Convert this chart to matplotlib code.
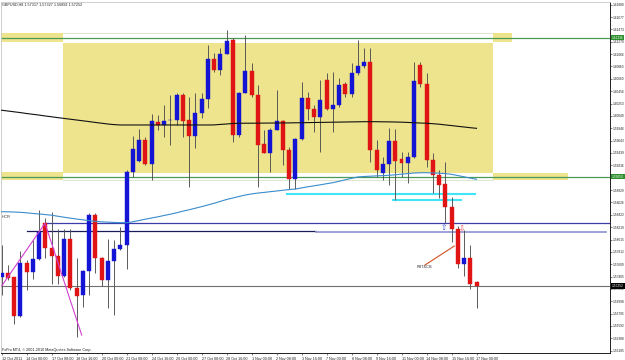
import matplotlib
matplotlib.use("Agg")
import matplotlib.pyplot as plt
from matplotlib.patches import Rectangle
from matplotlib.transforms import blended_transform_factory

plt.rcParams['font.family'] = ['Liberation Sans', 'DejaVu Sans']

# ---------------- data ----------------
title_text = "GBPUSD,H8 1.57317 1.57327 1.56892 1.57252"
copyright_text = "FxPro MT4, \u00a9 2001-2010 MetaQuotes Software Corp."

x_labels = ["12 Oct 2011", "14 Oct 00:00", "17 Oct 08:00", "18 Oct 16:00", "20 Oct 00:00",
            "21 Oct 08:00", "24 Oct 16:00", "26 Oct 00:00", "27 Oct 08:00", "28 Oct 16:00",
            "1 Nov 00:00", "2 Nov 08:00", "3 Nov 16:00", "7 Nov 00:00", "8 Nov 08:00",
            "9 Nov 16:00", "11 Nov 00:00", "14 Nov 08:00", "15 Nov 16:00", "17 Nov 00:00"]

opens = [1.57403, 1.57469, 1.57393, 1.56755, 1.57633, 1.57485, 1.57694, 1.58282, 1.57870, 1.57743,
         1.57419, 1.58018, 1.57221, 1.57102, 1.57502, 1.58418, 1.57705, 1.57348, 1.57666, 1.57859,
         1.57924, 1.59131, 1.59307, 1.59653, 1.59252, 1.59954, 1.59900, 1.59974, 1.59982, 1.60393,
         1.59982, 1.59718, 1.60102, 1.60327, 1.60981, 1.60805, 1.61068, 1.61299, 1.59735, 1.60431,
         1.60788, 1.60393, 1.59582, 1.59444, 1.59817, 1.59970, 1.59488, 1.59005, 1.59664, 1.60339,
         1.60158, 1.60026, 1.60640, 1.60158, 1.60229, 1.60570, 1.60405, 1.60751, 1.60871, 1.60937,
         1.59488, 1.59104, 1.59252, 1.59636, 1.59335, 1.59269, 1.59378, 1.60887, 1.60574, 1.59323,
         1.59077, 1.58929, 1.58555, 1.58183, 1.57612, 1.57705, 1.57317]
highs = [1.57924, 1.57595, 1.57403, 1.57830, 1.57677, 1.58007, 1.58500, 1.58364, 1.58462, 1.58183,
         1.58183, 1.58183, 1.57705, 1.57510, 1.58446, 1.58446, 1.57732, 1.58018, 1.58007, 1.58216,
         1.59159, 1.59718, 1.59829, 1.59707, 1.60075, 1.60064, 1.60229, 1.60393, 1.60426, 1.60421,
         1.60365, 1.60421, 1.60421, 1.61216, 1.61080, 1.61162, 1.61463, 1.61327, 1.60448, 1.61381,
         1.60925, 1.60558, 1.59817, 1.59845, 1.60476, 1.59982, 1.59542, 1.59681, 1.60612, 1.60448,
         1.60229, 1.60640, 1.60751, 1.60777, 1.60668, 1.60612, 1.60915, 1.61299, 1.61162, 1.61162,
         1.59653, 1.59378, 1.59845, 1.59829, 1.59460, 1.59460, 1.60932, 1.60932, 1.60751, 1.59434,
         1.59159, 1.59295, 1.58710, 1.58237, 1.58171, 1.57924, 1.57327]
lows = [1.57101, 1.57348, 1.56624, 1.56744, 1.57184, 1.57360, 1.57677, 1.57705, 1.57282, 1.57282,
        1.57403, 1.57184, 1.56415, 1.56909, 1.57102, 1.57469, 1.57249, 1.56892, 1.56772, 1.57850,
        1.57525, 1.59048, 1.59295, 1.59241, 1.58994, 1.59817, 1.59707, 1.59570, 1.59900, 1.59707,
        1.58884, 1.59516, 1.60010, 1.60174, 1.60777, 1.60723, 1.61060, 1.59625, 1.59707, 1.60421,
        1.60365, 1.58884, 1.59434, 1.59131, 1.59810, 1.59241, 1.58841, 1.58841, 1.59653, 1.59982,
        1.59789, 1.59460, 1.60146, 1.59789, 1.60201, 1.60365, 1.60365, 1.60723, 1.60833, 1.59295,
        1.59048, 1.58994, 1.58912, 1.58665, 1.59048, 1.58940, 1.59351, 1.60520, 1.59213, 1.58775,
        1.58693, 1.58281, 1.57979, 1.57541, 1.57414, 1.57195, 1.56892]
closes = [1.57469, 1.57386, 1.56755, 1.57633, 1.57485, 1.57689, 1.58143, 1.57870, 1.57743, 1.57419,
          1.58018, 1.57211, 1.57090, 1.57502, 1.58418, 1.57705, 1.57348, 1.57666, 1.57859, 1.57924,
          1.59131, 1.59504, 1.59653, 1.59252, 1.59966, 1.59900, 1.59966, 1.59990, 1.60393, 1.59970,
          1.59718, 1.60102, 1.60327, 1.60981, 1.60805, 1.61068, 1.61282, 1.59735, 1.60431, 1.60788,
          1.60393, 1.59570, 1.59444, 1.59817, 1.59970, 1.59488, 1.59005, 1.59664, 1.60339, 1.60158,
          1.60026, 1.60311, 1.60158, 1.60229, 1.60558, 1.60405, 1.60751, 1.60871, 1.60937, 1.59488,
          1.59159, 1.59252, 1.59636, 1.59312, 1.59269, 1.59378, 1.60624, 1.60574, 1.59323, 1.59077,
          1.58912, 1.58555, 1.58183, 1.57607, 1.57705, 1.57277, 1.57252]

ma_blue = [1.58472, 1.58471, 1.58467, 1.58463, 1.58454, 1.58444, 1.58435, 1.58425, 1.58415, 1.58398,
           1.58382, 1.58367, 1.58352, 1.58339, 1.58326, 1.58314, 1.58306, 1.58301, 1.58296, 1.58293,
           1.58291, 1.58306, 1.58328, 1.58349, 1.58369, 1.58388, 1.58410, 1.58431, 1.58454, 1.58481,
           1.58504, 1.58530, 1.58555, 1.58583, 1.58611, 1.58642, 1.58673, 1.58698, 1.58723, 1.58747,
           1.58765, 1.58779, 1.58790, 1.58802, 1.58813, 1.58825, 1.58836, 1.58846, 1.58864, 1.58882,
           1.58899, 1.58915, 1.58933, 1.58950, 1.58973, 1.58998, 1.59022, 1.59044, 1.59052, 1.59057,
           1.59062, 1.59067, 1.59072, 1.59080, 1.59090, 1.59100, 1.59109, 1.59114, 1.59114, 1.59111,
           1.59106, 1.59100, 1.59088, 1.59068, 1.59047, 1.59026, 1.59006]
ma_black = [1.60143, 1.60130, 1.60117, 1.60104, 1.60089, 1.60076, 1.60063, 1.60048, 1.60035, 1.60021,
            1.60008, 1.59995, 1.59982, 1.59969, 1.59956, 1.59942, 1.59929, 1.59916, 1.59906, 1.59900,
            1.59900, 1.59900, 1.59900, 1.59900, 1.59900, 1.59900, 1.59900, 1.59900, 1.59900, 1.59900,
            1.59900, 1.59900, 1.59900, 1.59900, 1.59901, 1.59909, 1.59916, 1.59924, 1.59928, 1.59929,
            1.59929, 1.59930, 1.59931, 1.59932, 1.59932, 1.59933, 1.59934, 1.59936, 1.59937, 1.59939,
            1.59941, 1.59942, 1.59944, 1.59946, 1.59947, 1.59949, 1.59951, 1.59952, 1.59954, 1.59954,
            1.59954, 1.59952, 1.59951, 1.59949, 1.59946, 1.59942, 1.59937, 1.59932, 1.59928, 1.59921,
            1.59913, 1.59901, 1.59890, 1.59878, 1.59867, 1.59855, 1.59845]

price_ticks = [1.61880, 1.61677, 1.61473, 1.61270, 1.61066, 1.60863, 1.60660, 1.60456, 1.60253,
               1.60049, 1.59846, 1.59643, 1.59439, 1.59236, 1.58829, 1.58626, 1.58422,
               1.58219, 1.58015, 1.57812, 1.57609, 1.57405, 1.57202, 1.56998, 1.56795, 1.56592,
               1.56388, 1.56185]

zone_top_level = 1.61336
zone_bottom_level = 1.59050
hcr_line = 1.58282
base_line = 1.58155
base_line2 = 1.58143
support1 = 1.58759
support2 = 1.58673
zigzag_x = [0.03, 6.96, 12.83]
zigzag_y = [1.57250, 1.58282, 1.56443]

# ---------------- figure ----------------
W, H = 625, 360
fig = plt.figure(figsize=(W / 100, H / 100), dpi=100)
fig.patch.set_facecolor('white')
ax = fig.add_axes([1 / W, (H - 353) / H, 609 / W, 351 / H])
ax.set_facecolor('white')

ax.set_ylim(1.56147, 1.61924)
ax.set_xlim(-0.08, 97.36)

yellow = '#EFE48E'
# zones (background)
ax.add_patch(Rectangle((9.84, 1.59114), 78.7 - 9.84, 1.61254 - 1.59114, fc=yellow, ec='none', zorder=0))
ax.add_patch(Rectangle((-0.5, 1.61271), 10.34, 1.61409 - 1.61271, fc=yellow, ec='none', zorder=0))
ax.add_patch(Rectangle((78.7, 1.61271), 3.0, 1.61409 - 1.61271, fc=yellow, ec='none', zorder=0))
ax.add_patch(Rectangle((-0.5, 1.58994), 10.34, 1.59131 - 1.58994, fc=yellow, ec='none', zorder=0))
ax.add_patch(Rectangle((78.7, 1.58994), 12.0, 1.59114 - 1.58994, fc=yellow, ec='none', zorder=0))
ax.plot([9.84, 78.7], [1.61409, 1.61409], color='#d8e0c8', lw=0.6, zorder=0.5)
ax.plot([9.84, 78.7], [1.58994, 1.58994], color='#d8e0c8', lw=0.6, zorder=0.5)

# horizontal levels
ax.axhline(zone_top_level, color='#4c9a55', lw=0.9, zorder=1)
ax.axhline(zone_bottom_level, color='#4c9a55', lw=0.9, zorder=1)
ax.plot([7.0, 98], [hcr_line, hcr_line], color='#3c3ca8', lw=0.9, zorder=1)
ax.plot([4.0, 50.3], [base_line, base_line], color='#1c1c5c', lw=0.9, zorder=1)
ax.plot([50.3, 96.7], [base_line2, base_line2], color='#9a9ad8', lw=1.3, zorder=1)
ax.axhline(closes[-1], color='#707070', lw=0.8, zorder=1)
ax.plot([45.75, 75.75], [support1, support1], color='#40e6f6', lw=1.5, zorder=1.5)
ax.plot([62.6, 73.6], [support2, support2], color='#40e6f6', lw=1.5, zorder=1.5)

# candles
bw = 0.64
for i in range(len(opens)):
    o, h, l, c = opens[i], highs[i], lows[i], closes[i]
    up = c >= o
    col = '#1414d4' if up else '#e01414'
    ax.plot([i, i], [l, h], color='#505050', lw=0.65, zorder=2, solid_capstyle='butt')
    bot = min(o, c)
    hgt = max(abs(c - o), 0.00006)
    ax.add_patch(Rectangle((i - bw / 2, bot), bw, hgt, fc=col, ec=col, lw=0.3, zorder=3))

# moving averages
idx = list(range(len(opens)))
ax.plot(idx, ma_blue, color='#3a8ccc', lw=0.8, zorder=4)
ax.plot([-0.3] + idx, [ma_black[0] + 0.00003] + ma_black, color='#101010', lw=0.8, zorder=4)

# zigzag and annotations
ax.plot(zigzag_x, zigzag_y, color='#d040d0', lw=0.8, zorder=4)
ax.plot([67.76, 72.45], [1.57595, 1.57908], color='#d05020', lw=0.8, zorder=4)
ax.text(67.7, 1.57559, "PBT&CB", fontsize=2.8, color='#303030', ha='center', va='center', zorder=5)
ax.text(0.1, 1.58380, "HCR", fontsize=3.0, color='#303030', ha='left', va='center', zorder=5)
ax.text(70.7, 1.58212, "\u21e7", fontsize=5.5, color='#3050d0', ha='center', va='center',
        family='DejaVu Sans', zorder=5)
ax.text(73.7, 1.58188, "\u21e9", fontsize=5.5, color='#e05050', ha='center', va='center',
        family='DejaVu Sans', zorder=5)

# axes styling
for s in ['left', 'top']:
    ax.spines[s].set_color('#c8c8c8')
    ax.spines[s].set_linewidth(0.6)
for s in ['right', 'bottom']:
    ax.spines[s].set_color('#202020')
    ax.spines[s].set_linewidth(0.7)

ax.yaxis.tick_right()
ax.set_yticks(price_ticks)
ax.set_yticklabels(["%.5f" % v for v in price_ticks])
ax.tick_params(axis='y', labelsize=2.3, pad=0.7, length=1.2, width=0.4, colors='#202020')
ax.set_xticks(list(range(0, 77, 4)))
ax.set_xticklabels(x_labels)
ax.tick_params(axis='x', labelsize=2.7, pad=1.2, length=1.5, width=0.4, colors='#202020')
for lbl in ax.get_xticklabels():
    lbl.set_ha('left')

# highlighted price labels on the axis
tr = blended_transform_factory(ax.transAxes, ax.transData)
for val, fc, tc in [(zone_top_level, '#2f8f2f', '#e8ffe8'), (zone_bottom_level, '#2f8f2f', '#e8ffe8'),
                    (closes[-1], '#000000', '#ffffff')]:
    ax.text(1.0035, val, "%.5f" % val, transform=tr, fontsize=2.3, color=tc, ha='left', va='center',
            bbox=dict(boxstyle='square,pad=0.2', fc=fc, ec='none'), zorder=10, clip_on=False)

fig.text(2 / W, 1 - 4.5 / H, title_text, fontsize=2.7, color='#202020', ha='left', va='center')
fig.text(2 / W, 1 - 350 / H, copyright_text, fontsize=2.7, color='#202020', ha='left', va='center')

fig.savefig('out.png', dpi=100, facecolor='white')
